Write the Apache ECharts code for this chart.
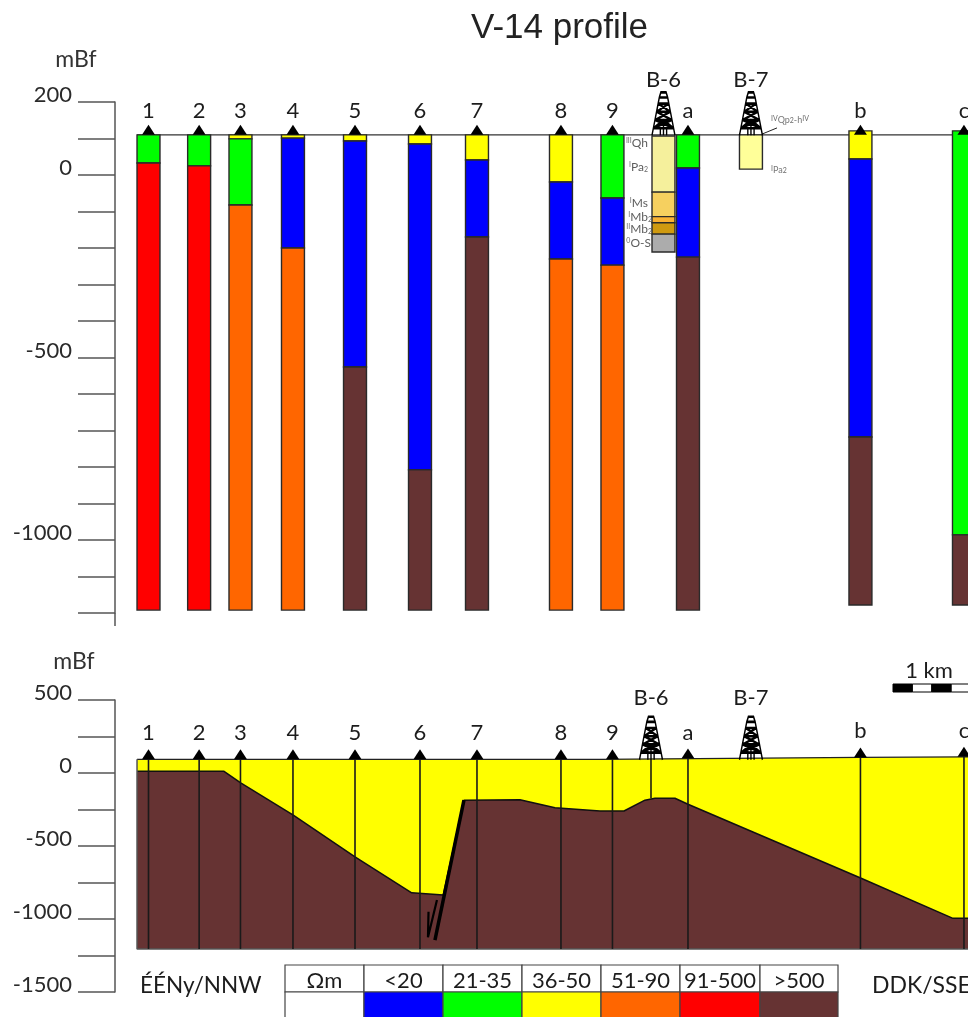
<!DOCTYPE html>
<html>
<head>
<meta charset="utf-8">
<style>html,body{margin:0;padding:0;background:#fff;overflow:hidden}#c{width:968px;height:1017px}</style>
<script src="https://cdn.jsdelivr.net/npm/echarts@6/dist/echarts.min.js"></script>
</head>
<body>
<div id="c"></div>
<script>
// ---- Data (distance along the profile in metres, elevation in mBf) ----
const stationNames = ['1','2','3','4','5','6','7','8','9','a','b','c'];
const stationX = [432,1085,1618,2295,3095,3933,4668,5751,6415,7389,9613,10948];
const stationSurfaceUpper = [110,110,110,110,110,110,110,110,110,110,121,121];
const stationSurfaceLower = [94,94,94,94,94,94,94,94,94,99,107,111];
const stationBaseLower = -1205;

const classLabels = ['<20','21-35','36-50','51-90','91-500','>500'];
const classColors = ['#0000ff','#00ff00','#ffff00','#ff6600','#ff0000','#663333'];
const columnBounds = [
  [110,33,-1192],
  [110,25,-1192],
  [110,99,-82,-1192],
  [110,101,-200,-1192],
  [110,93,-526,-1192],
  [110,85,-808,-1192],
  [110,41,-170,-1192],
  [110,-19,-230,-1192],
  [110,-63,-247,-1192],
  [110,19,-225,-1192],
  [121,44,-718,-1178],
  [121,-986,-1178]
];
const columnClasses = [
  [1,4],[1,4],[2,1,3],[2,0,3],[2,0,5],[2,0,5],[2,0,5],[2,0,3],[1,0,3],[1,0,5],[2,0,5],[1,5]
];

const boreNames = ['B-6','B-7'];
const boreXUpper = [7073,8201];
const boreXLower = [6912,8201];
const boreBounds = [[107,-47,-114,-131,-162,-211],[110,16]];
const boreColors = [['#f5f09c','#f6d05f','#f9b233','#cf9a10','#acacac'],['#ffff99']];
const boreLabelsLeft = [
  ['{u|III}Qh',88,6873],['{u|I}Pa{d|2}',22,6873],['{u|I}Ms',-77,6873],['{u|I}Mb{d|2}',-115,6925],['{u|II}Mb{d|2}',-148,6925],['{u|0}O-S',-186,6912]
];
const boreLabelsRight = [['{u|IV}Qp{d|2}-h{u|IV}',151,8459],['{u|I}Pa{d|2}',14,8459]];
const boreLeader = [[8343,112],[8537,129]];

const upperSurface = [[284,110],[11000,110]];
const lowerSurface = [[284,94],[6254,94],[9607,107],[11000,111]];
const lowerInterface = [
  [284,12],[1406,12],[1621,-68],[2299,-289],[3095,-574],[3826,-820],[4233,-835],[4500,-186],
  [5222,-183],[5674,-238],[6254,-260],[6564,-260],[6834,-186],[6963,-173],[7221,-173],
  [7389,-214],[9607,-717],[10806,-995],[11000,-995]
];
const lowerFrame = [[284,94],[284,-1205],[11000,-1205]];
const faultLine = [[4126,-1145],[4500,-186]];
const faultArrow = [[4152,-870],[4036,-1125],[4043,-951]];
const bore6Stem = [[6912,94],[6912,-173]];

const upperTickLabels = [200,0,-500,-1000];
const lowerTickLabels = [500,0,-500,-1000,-1500];
const titleText = 'V-14 profile';

// ---- Helpers ----
const FONT = 'Lato';
const TXT = '#1c1c1c';
const columnW = 296;
const derrick = 'path://M1 42L8 5L16 5L23 42M8 5L9.5 0L14.5 0L16 5M7 11L17 11M5.5 19L18.5 19M4 27L20 27M2.5 35L21.5 35M7 11L18.5 19M17 11L5.5 19M5.5 19L20 27M18.5 19L4 27M4 27L21.5 35M20 27L2.5 35M2.5 35L12 27L21.5 35M12 27L12 42M9 31L9 42M15 31L15 42';

const colData = [];
columnBounds.forEach((b,i)=>{ for(let k=0;k<b.length-1;k++) colData.push([stationX[i],b[k],b[k+1],classColors[columnClasses[i][k]]]); });
const boreData = [];
boreBounds.forEach((b,i)=>{ for(let k=0;k<b.length-1;k++) boreData.push([boreXUpper[i],b[k],b[k+1],boreColors[i][k]]); });

function rectItem(params, api){
  const a = api.coord([api.value(0),api.value(1)]);
  const b = api.coord([api.value(0),api.value(2)]);
  const w = api.size([columnW,0])[0];
  return {type:'rect',shape:{x:a[0]-w/2,y:a[1],width:w,height:b[1]-a[1]},
    style:{fill:api.value(3),stroke:'#2a2a2a',lineWidth:1.4}};
}
const sub = {u:{fontSize:7,verticalAlign:'top',fontFamily:FONT,color:'#444'},d:{fontSize:7,verticalAlign:'bottom',fontFamily:FONT,color:'#444'}};
function stationSeries(idx, surf, dist){
  return {type:'scatter',xAxisIndex:idx,yAxisIndex:idx,symbol:'triangle',symbolSize:[13,10],symbolOffset:[0,-5],z:6,silent:true,
    itemStyle:{color:'#000',opacity:1},clip:false,
    data:stationX.map((x,i)=>({value:[x,surf[i]],name:stationNames[i]})),
    label:{show:true,position:'top',distance:dist,formatter:p=>p.name,fontFamily:FONT,fontSize:22,color:TXT}};
}
function derrickSeries(idx, xs, y, dist){
  return {type:'scatter',xAxisIndex:idx,yAxisIndex:idx,symbol:derrick,symbolSize:[23,43],symbolOffset:[0,-21],symbolKeepAspect:false,z:7,silent:true,clip:false,
    itemStyle:{color:'rgba(0,0,0,0)',borderColor:'#000',borderWidth:1.9,opacity:1},
    data:xs.map((x,i)=>({value:[x,y],name:boreNames[i]})),
    label:{show:true,position:'top',distance:dist,formatter:p=>p.name,fontFamily:FONT,fontSize:22,color:TXT}};
}
function textSeries(rows,align,size,color){
  return {type:'scatter',xAxisIndex:0,yAxisIndex:0,symbolSize:0,z:8,silent:true,clip:false,
    data:rows.map(r=>({value:[r[2],r[1]],name:r[0]})),
    label:{show:true,position:'inside',align,verticalAlign:'middle',formatter:p=>p.name,fontFamily:FONT,fontSize:size,color,rich:sub}};
}
function plainLine(idx,data,color,width,z){
  return {type:'line',xAxisIndex:idx,yAxisIndex:idx,data,symbol:'none',silent:true,z,clip:false,
    lineStyle:{color,width}};
}
function yAxis(idx,min,max,interval,labels){
  return {type:'value',gridIndex:idx,min,max,interval,
    axisLine:{show:true,onZero:false,lineStyle:{color:'#555',width:1.5}},
    axisTick:{show:true,length:37,lineStyle:{color:'#555',width:1.5}},
    splitLine:{show:false},
    axisLabel:{margin:43,fontFamily:FONT,fontSize:22,color:'#2a2a2a',align:'right',verticalAlign:'bottom',lineHeight:14,
      formatter:v=>labels.includes(v)?String(v):''}};
}

// ---- Chart ----
const legendEdges = [285,364,443,522,601,680,760,838];
const legendGraphic = [];
legendEdges.slice(0,-1).forEach((x,i)=>{
  const w = legendEdges[i+1]-x;
  const hdr = i===0?'Ωm':classLabels[i-1];
  legendGraphic.push({type:'rect',shape:{x,y:965,width:w,height:27},style:{fill:'#fff',stroke:'#444',lineWidth:1.2}});
  legendGraphic.push({type:'rect',shape:{x,y:992,width:w,height:40},style:{fill:i===0?'#fff':classColors[i-1],stroke:'#444',lineWidth:1.2}});
  legendGraphic.push({type:'text',x:x+w/2,y:981,style:{text:hdr,fill:TXT,font:'22px '+FONT,align:'center',verticalAlign:'middle'}});
});
const scaleCols = ['#000','#fff','#000','#fff'];
const scaleGraphic = scaleCols.map((c,i)=>({type:'rect',shape:{x:893+i*19.4,y:684,width:19.4,height:8},style:{fill:c,stroke:'#000',lineWidth:1}}));

const chart = echarts.init(document.getElementById('c'),null,{renderer:'canvas',width:968,height:1017});
chart.setOption({
  animation:false,
  backgroundColor:'#fff',
  title:{text:titleText,left:466,top:6,textStyle:{fontFamily:'Liberation Sans',fontSize:35,fontWeight:'normal',color:'#222'}},
  grid:[
    {left:115,top:102,width:853,height:511,containLabel:false},
    {left:115,top:700,width:853,height:292,containLabel:false},
    {left:115,top:700,width:853,height:249,containLabel:false}
  ],
  xAxis:[
    {type:'value',gridIndex:0,min:0,max:11000,show:false},
    {type:'value',gridIndex:1,min:0,max:11000,show:false},
    {type:'value',gridIndex:2,min:0,max:11000,show:false}
  ],
  yAxis:[yAxis(0,-1200,200,100,upperTickLabels),yAxis(1,-1500,500,250,lowerTickLabels),
    {type:'value',gridIndex:2,min:stationBaseLower,max:500,show:false}],
  graphic:[
    {type:'text',x:76,y:60,style:{text:'mBf',fill:'#333',font:'23px '+FONT,align:'center',verticalAlign:'middle'}},
    {type:'text',x:74,y:662,style:{text:'mBf',fill:'#333',font:'23px '+FONT,align:'center',verticalAlign:'middle'}},
    {type:'line',shape:{x1:115,y1:613,x2:115,y2:626},style:{stroke:'#555',lineWidth:1.5}},
    {type:'text',x:140,y:986,style:{text:'ÉÉNy/NNW',fill:TXT,font:'22.5px '+FONT,verticalAlign:'middle'}},
    {type:'text',x:872,y:986,style:{text:'DDK/SSE',fill:TXT,font:'23px '+FONT,verticalAlign:'middle'}},
    {type:'text',x:929,y:671,style:{text:'1 km',fill:TXT,font:'22px '+FONT,align:'center',verticalAlign:'middle'}},
    ...scaleGraphic,
    ...legendGraphic
  ],
  series:[
    // upper panel
    plainLine(0,upperSurface,'#333',1.3,2),
    {type:'custom',xAxisIndex:0,yAxisIndex:0,renderItem:rectItem,data:colData,z:3,silent:true,clip:true,encode:{x:0,y:[1,2]}},
    {type:'custom',xAxisIndex:0,yAxisIndex:0,renderItem:rectItem,data:boreData,z:3,silent:true,clip:false,encode:{x:0,y:[1,2]}},
    stationSeries(0,stationSurfaceUpper.map(()=>110),3),
    derrickSeries(0,boreXUpper,110,0),
    textSeries(boreLabelsLeft,'right',12,'#333'),
    textSeries(boreLabelsRight,'left',9,'#555'),
    plainLine(0,boreLeader,'#222',1,6),
    // lower panel
    {type:'line',xAxisIndex:2,yAxisIndex:2,data:lowerSurface,symbol:'none',silent:true,z:1,
      lineStyle:{color:'#222',width:1.3},areaStyle:{color:'#ffff00',opacity:1,origin:'start'}},
    {type:'line',xAxisIndex:2,yAxisIndex:2,data:lowerInterface,symbol:'none',silent:true,z:2,
      lineStyle:{color:'#111',width:1.5},areaStyle:{color:'#663333',opacity:1,origin:'start'}},
    plainLine(1,lowerFrame,'#555',1.5,3),
    {type:'custom',xAxisIndex:1,yAxisIndex:1,z:4,silent:true,clip:false,
      data:stationX.map((x,i)=>[x,stationSurfaceLower[i],stationBaseLower]),encode:{x:0,y:[1,2]},
      renderItem:(p,api)=>{
        const a=api.coord([api.value(0),api.value(1)]),b=api.coord([api.value(0),api.value(2)]);
        return {type:'line',shape:{x1:a[0],y1:a[1],x2:b[0],y2:b[1]},style:{stroke:'#1a1a1a',lineWidth:1.6}};
      }},
    plainLine(1,bore6Stem,'#111',1.5,4),
    plainLine(1,faultLine,'#000',3.5,5),
    plainLine(1,faultArrow,'#000',2.2,5),
    stationSeries(1,stationSurfaceLower,5),
    derrickSeries(1,boreXLower,94,7)
  ]
});
</script>
</body>
</html>
